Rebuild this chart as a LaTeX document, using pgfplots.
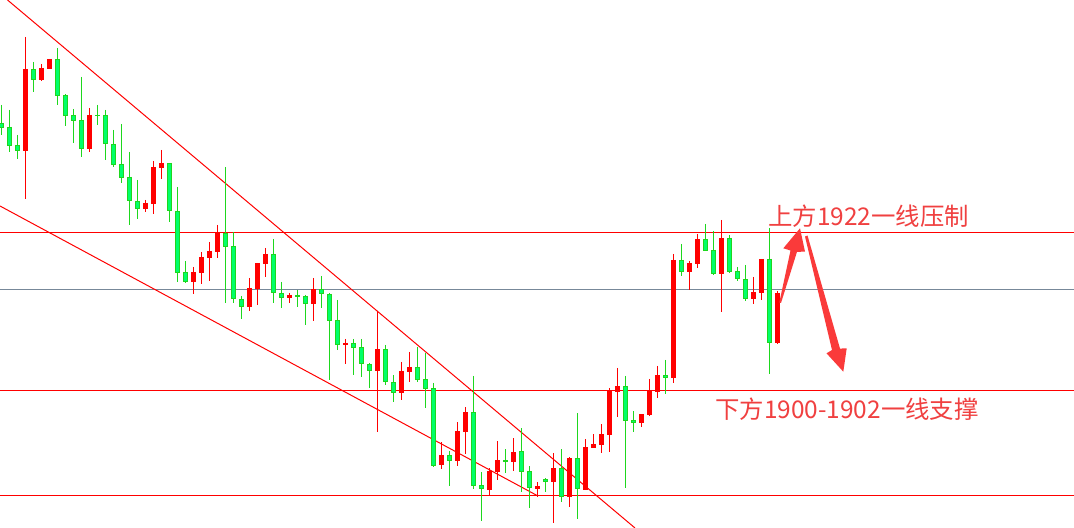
\documentclass[border=0pt]{standalone}
\usepackage{pgfplots}
\usepackage{pgfplotstable}
\pgfplotsset{compat=1.18}
\usepackage{fontspec}
\newfontfamily\cjk{Noto Sans CJK SC}
\definecolor{cred}{RGB}{255,0,0}
\definecolor{gwick}{RGB}{30,215,30}
\definecolor{gfill}{RGB}{0,255,105}
\definecolor{lgray}{RGB}{119,136,153}
\definecolor{txtred}{RGB}{240,64,64}
\definecolor{arrred}{RGB}{250,58,58}

% columns: k (candle index), h (high), l (low), t (body top), b (body bottom) -- in chart pixel units (y grows downward)
\pgfplotstableread{
k h l t b
3 37 199 69 151
5 64 81 68 80
6 59 69 59 69
11 108 152 115 149
18 200 212 203 209
19 161 214 167 204
20 150 179 163 168
24 267 294 272 282
25 252 284 257 273
26 242 281 251 258
27 225 258 232 252
31 278 311 288 307
32 263 305 263 289
33 248 277 254 264
36 293 303 295 298
39 278 321 289 304
43 339 364 343 345
47 311 432 349 371
50 362 400 371 393
51 352 382 367 372
55 442 469 455 465
57 422 466 431 461
58 407 454 412 432
61 468 495 471 490
62 441 480 460 472
64 438 471 452 462
67 482 497 486 489
69 453 523 468 482
71 457 507 458 497
73 439 490 447 490
74 434 448 444 448
75 424 453 434 445
76 388 452 391 435
77 368 417 386 392
80 414 427 414 423
81 379 416 390 415
82 366 398 375 392
84 254 383 260 378
86 261 290 263 272
87 234 268 239 264
90 220 312 238 274
94 277 304 292 299
95 259 300 259 293
97 291 344 293 343
}\redtab

\pgfplotstableread{
k h l t b
0 105 135 123 128
1 110 152 127 146
2 135 159 145 151
4 62 92 69 80
7 48 105 59 96
8 94 126 95 116
9 109 143 115 121
10 77 157 120 149
12 105 125 115 116
13 110 160 115 144
14 130 167 144 165
15 124 183 164 178
16 152 225 177 201
17 180 219 201 209
21 163 222 163 211
22 187 282 211 273
23 261 283 272 282
28 167 303 233 247
29 232 303 246 299
30 296 319 299 307
34 239 303 254 293
35 282 308 293 298
37 290 307 295 297
38 295 325 296 304
40 276 308 289 294
41 293 380 294 321
42 300 350 320 345
44 339 375 343 348
45 339 377 347 364
46 363 388 364 371
48 345 385 349 382
49 375 402 382 393
52 347 382 367 380
53 353 408 379 389
54 383 467 388 466
56 451 486 455 461
59 376 489 412 486
60 472 521 485 489
63 449 473 460 462
65 428 492 451 472
66 466 508 471 488
68 478 492 479 482
70 449 502 468 497
72 413 519 458 489
78 376 488 386 421
79 411 432 420 423
83 360 394 375 378
85 244 276 260 272
88 224 251 239 251
89 231 275 250 274
91 235 273 238 272
92 267 281 271 279
93 265 301 279 299
96 228 374 259 343
}\greentab

\begin{document}
\begin{tikzpicture}
\begin{axis}[
  scale only axis, width=537pt, height=264pt,
  xmin=0, xmax=1074, ymin=0, ymax=528, y dir=reverse,
  hide axis, clip=true,
]
\path[fill=white] (axis cs:0,0) rectangle (axis cs:1074,528);

% horizontal levels
\addplot[draw=cred, line width=0.6pt, mark=none] coordinates {(0,232.5) (1074,232.5)};
\addplot[draw=lgray, line width=0.6pt, mark=none] coordinates {(0,289.5) (1074,289.5)};
\addplot[draw=cred, line width=0.6pt, mark=none] coordinates {(0,390.5) (1074,390.5)};
\addplot[draw=cred, line width=0.6pt, mark=none] coordinates {(0,495.5) (1074,495.5)};
% trend lines
\addplot[draw=cred, line width=0.5pt, mark=none] coordinates {(7.5,0) (635,528)};
\addplot[draw=cred, line width=0.5pt, mark=none] coordinates {(0,206) (538,496)};

% red candles: wicks and bodies
\addplot[cred, line width=0.5pt, mark=none, quiver={u=0, v=\thisrow{l}-\thisrow{h}}]
  table[x expr=8*\thisrow{k}+1.3, y=h] {\redtab};
\addplot[cred, line width=2.25pt, mark=none, quiver={u=0, v=\thisrow{b}-\thisrow{t}}]
  table[x expr=8*\thisrow{k}+1.3, y=t] {\redtab};

% green candles: wicks, body outline, body fill
\addplot[gwick, line width=0.5pt, mark=none, quiver={u=0, v=\thisrow{l}-\thisrow{h}}]
  table[x expr=8*\thisrow{k}+1.3, y=h] {\greentab};
\addplot[gwick, line width=2.25pt, mark=none, quiver={u=0, v=\thisrow{b}-\thisrow{t}}]
  table[x expr=8*\thisrow{k}+1.3, y=t] {\greentab};
\addplot[gfill, line width=1.25pt, mark=none, quiver={u=0, v={max(\thisrow{b}-\thisrow{t}-2,0)}}]
  table[x expr=8*\thisrow{k}+1.3, y expr=\thisrow{t}+1] {\greentab};

% annotation arrows
\fill[arrred] (axis cs:779.3,302.5) -- (axis cs:790.5,250.5) -- (axis cs:783.3,248.3)
  -- (axis cs:800,228.3) -- (axis cs:805,251.7) -- (axis cs:797,251.8) -- (axis cs:781,303) -- cycle;
\fill[arrred] (axis cs:805,236.5) -- (axis cs:832,350) -- (axis cs:826.5,353.3)
  -- (axis cs:843.3,371.7) -- (axis cs:846.7,348.3) -- (axis cs:840,348.6) -- (axis cs:807.5,235.5) -- cycle;

% annotation texts
\node[anchor=west, inner sep=0pt, text=txtred, font=\cjk\fontsize{12.2pt}{14pt}\selectfont]
  at (axis cs:768,216) {上方1922一线压制};
\node[anchor=west, inner sep=0pt, text=txtred, font=\cjk\fontsize{12.2pt}{14pt}\selectfont]
  at (axis cs:715,409) {下方1900-1902一线支撑};
\end{axis}
\pgfresetboundingbox
\path (current axis.south west) rectangle (current axis.north east);
\end{tikzpicture}
\end{document}
